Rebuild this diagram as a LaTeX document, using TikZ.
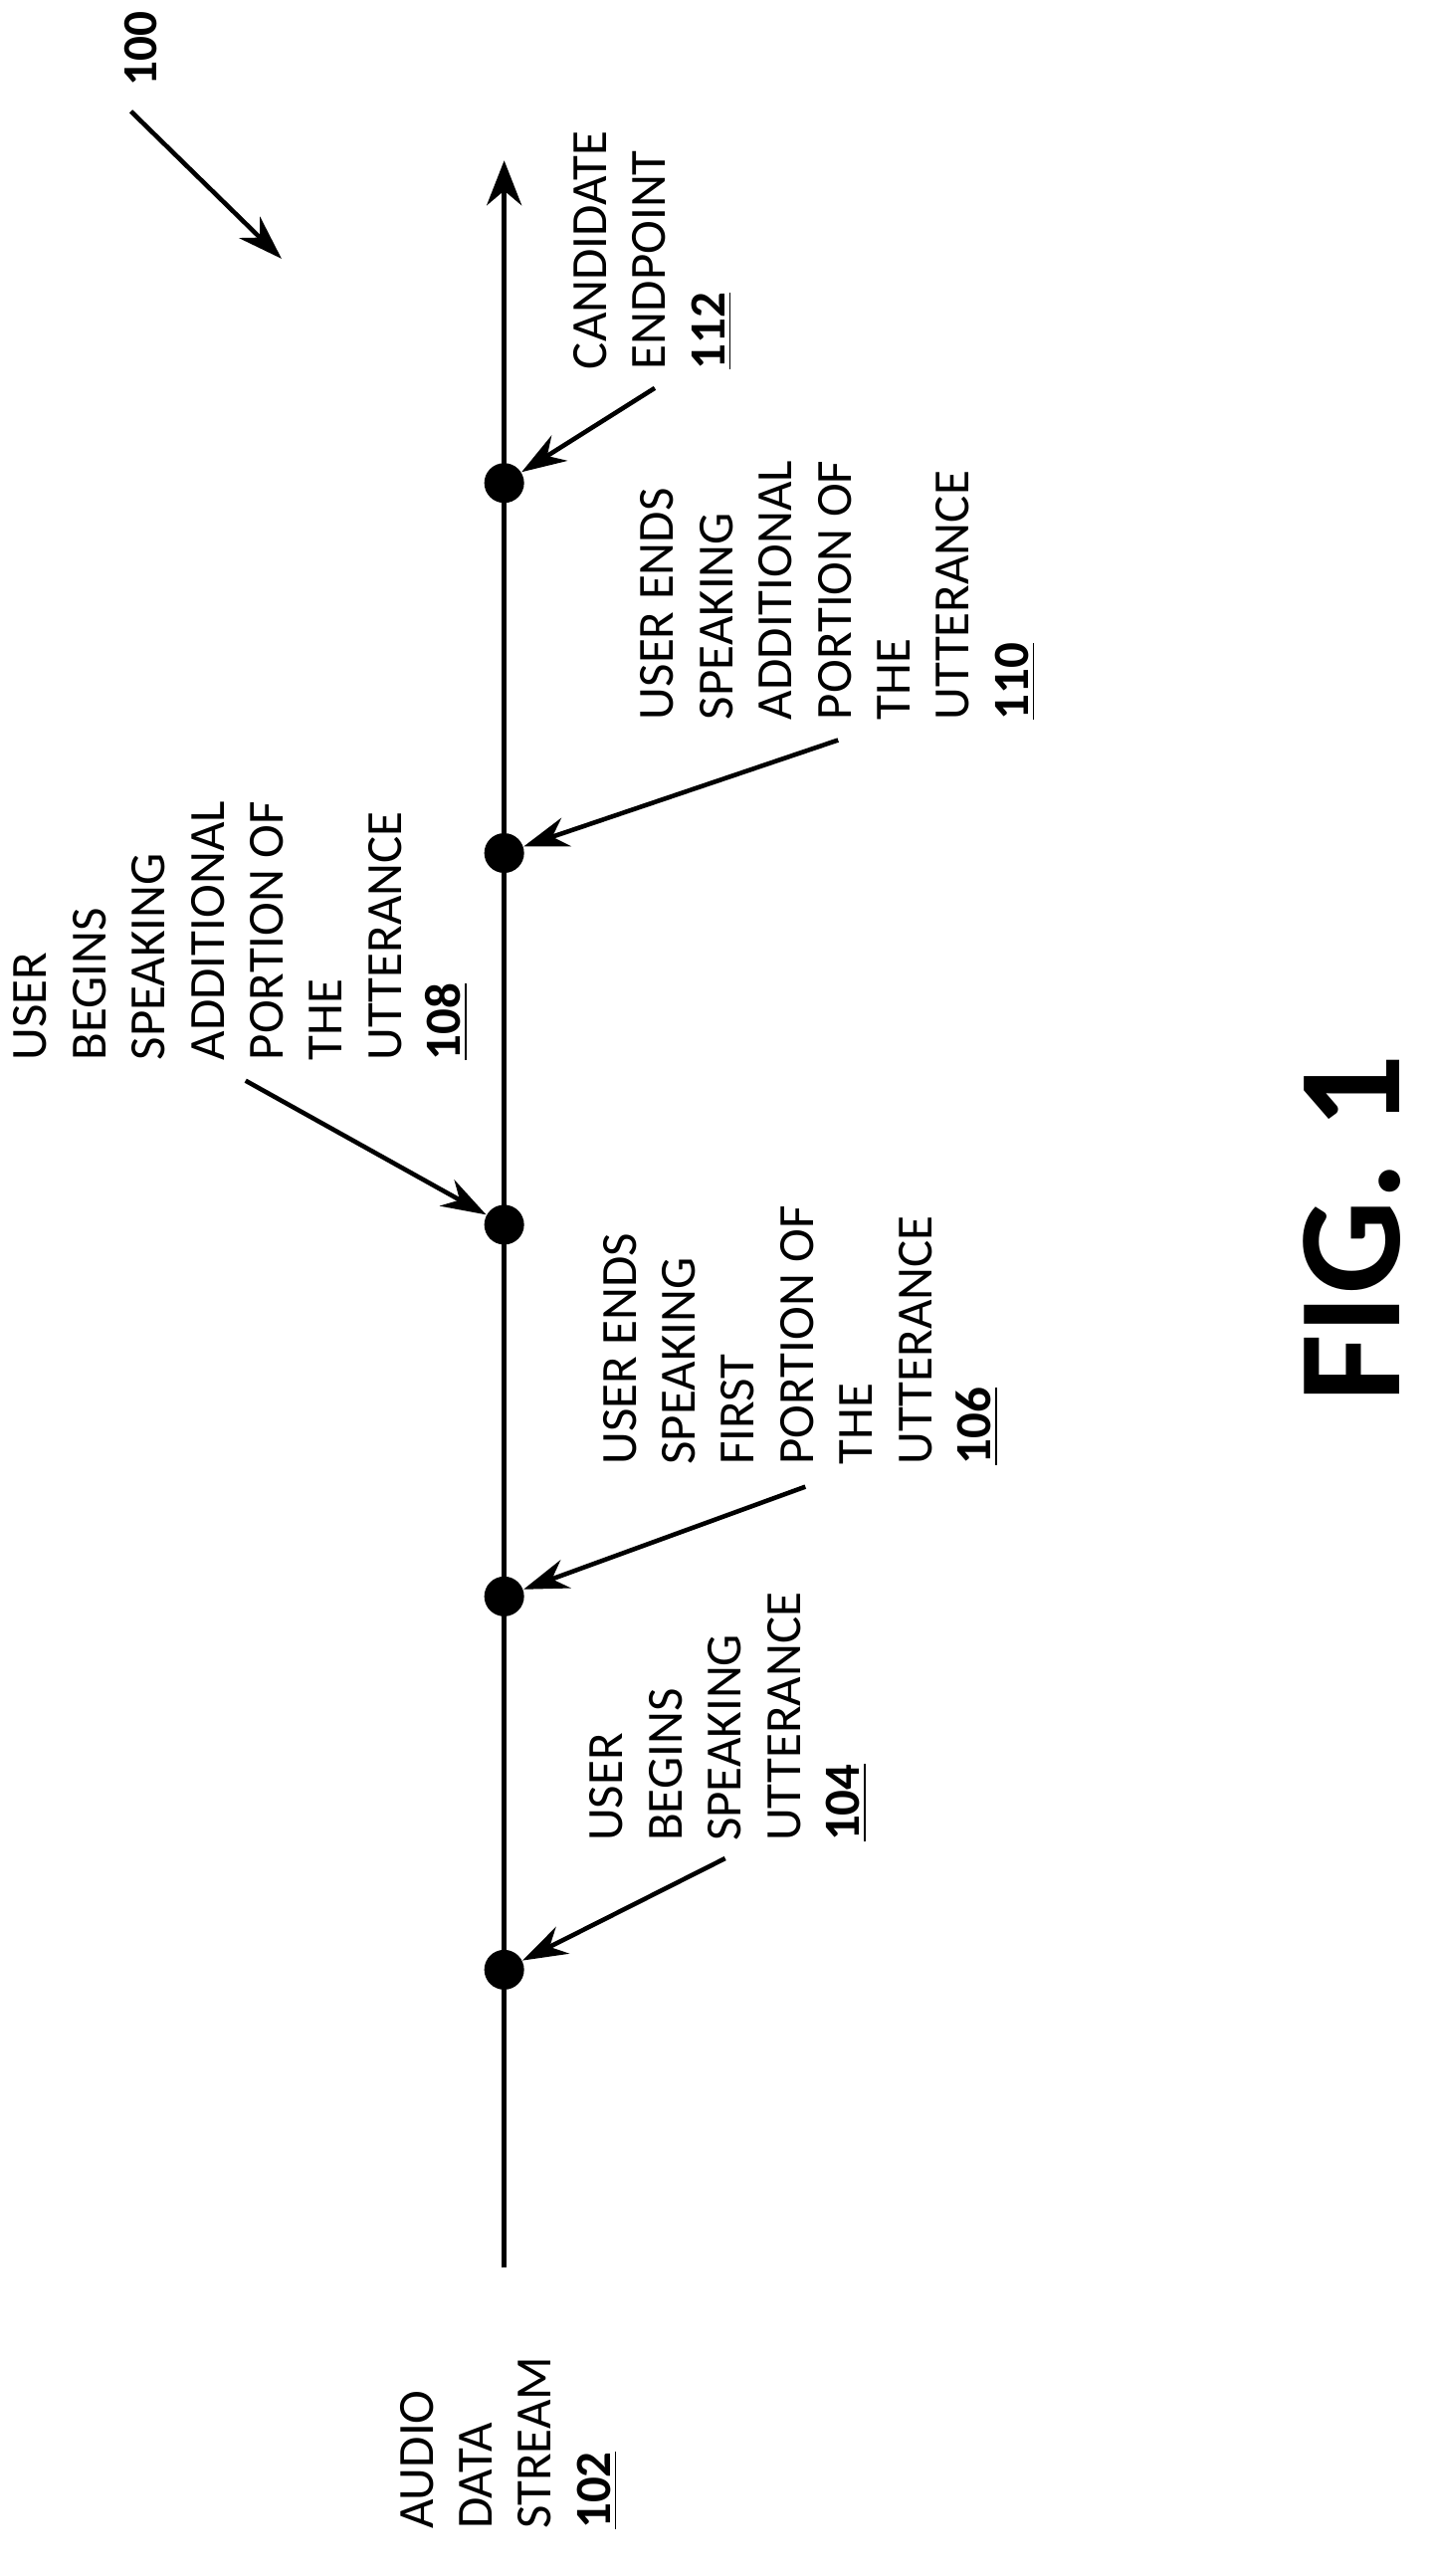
\documentclass[tikz,border=0pt]{standalone}
\usepackage{fontspec}
\setmainfont{Carlito}
\usetikzlibrary{arrows.meta}
\begin{document}
\begin{tikzpicture}[x=0.01645cm, y=-0.01645cm]
\tikzset{
  event/.style={circle, fill=black, inner sep=0pt, minimum size=0.4cm},
  lbl/.style={rotate=90, anchor=north west, align=left, inner sep=0pt,
    font=\fontsize{14.5}{16.9}\selectfont},
  pointer/.style={line width=1.3pt, -{Stealth[length=0.45cm, width=0.3cm]}}
}
\useasboundingbox (0,0) rectangle (875.4,1573.3);

% time axis
\coordinate (start) at (308,1385);
\coordinate (tip) at (308,98);
\draw [line width=1.5pt, -{Stealth[length=0.45cm, width=0.35cm]}] (start) -- (tip);

\node [event] (e104) at (308,1203) {};
\node [event] (e106) at (308,975) {};
\node [event] (e108) at (308,748) {};
\node [event] (e110) at (308,521) {};
\node [event] (e112) at (308,295) {};

% labels
\node [lbl] (l102) at (244,1545) {AUDIO\\DATA\\STREAM\\\underline{\textbf{102}}};
\node [lbl] (l104) at (360,1125) {USER\\BEGINS\\SPEAKING\\UTTERANCE\\\underline{\textbf{104}}};
\node [lbl] (l106) at (368,895) {USER ENDS\\SPEAKING\\FIRST\\PORTION OF\\THE\\UTTERANCE\\\underline{\textbf{106}}};
\node [lbl] (l108) at (8,648) {USER\\BEGINS\\SPEAKING\\ADDITIONAL\\PORTION OF\\THE\\UTTERANCE\\\underline{\textbf{108}}};
\node [lbl] (l110) at (391,440) {USER ENDS\\SPEAKING\\ADDITIONAL\\PORTION OF\\THE\\UTTERANCE\\\underline{\textbf{110}}};
\node [lbl] (l112) at (350,226) {CANDIDATE\\ENDPOINT\\\underline{\textbf{112}}};

% pointers
\coordinate (p104) at (443,1135);
\coordinate (p106) at (492,908);
\coordinate (p108) at (150,660);
\coordinate (p110) at (512,452);
\coordinate (p112) at (400,237);
\draw [pointer] (p104) -- (e104);
\draw [pointer] (p106) -- (e106);
\draw [pointer] (p108) -- (e108);
\draw [pointer] (p110) -- (e110);
\draw [pointer] (p112) -- (e112);

% figure reference
\node [rotate=90, font=\fontsize{14}{16}\selectfont\bfseries] (l100) at (86,30) {100};
\coordinate (a100) at (80,68);
\coordinate (b100) at (172,158);
\draw [pointer] (a100) -- (b100);

\node [rotate=90, font=\fontsize{42}{48}\selectfont\bfseries] (fig) at (826,750) {FIG. 1};
\end{tikzpicture}
\end{document}
